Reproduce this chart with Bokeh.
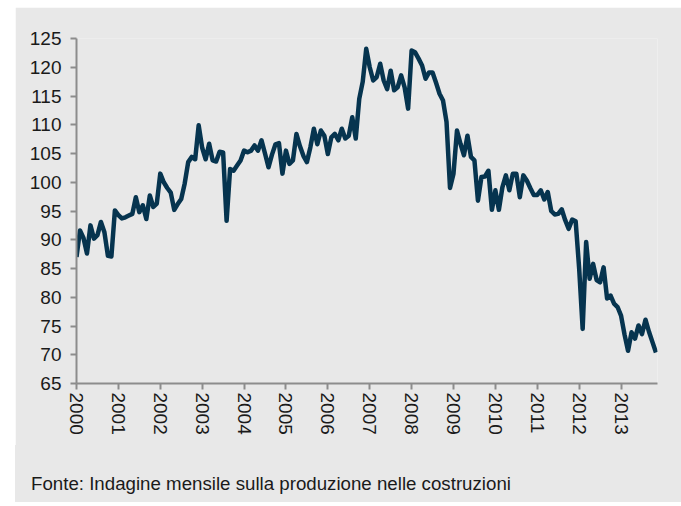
from bokeh.plotting import figure
from bokeh.models import Range1d, FixedTicker, Div
from bokeh.layouts import column
from bokeh.embed import file_html
from bokeh.resources import INLINE

# Monthly index, Jan 2000 - Nov 2013
v2000 = [87.0, 91.6, 90.3, 87.6, 92.5, 90.2, 90.8, 93.1, 91.3, 87.2, 87.1, 95.1]
v2001 = [94.3, 93.7, 93.9, 94.2, 94.5, 97.4, 94.8, 96.0, 93.6, 97.7, 95.7, 96.3]
v2002 = [101.5, 100.0, 99.0, 98.2, 95.2, 96.2, 97.1, 99.8, 103.5, 104.4, 104.0, 109.9]
v2003 = [106.0, 104.0, 106.7, 103.8, 103.6, 105.3, 105.2, 93.3, 102.3, 102.0, 102.9, 103.8]
v2004 = [105.5, 105.2, 105.5, 106.4, 105.5, 107.3, 105.0, 102.6, 104.8, 106.6, 106.8, 101.5]
v2005 = [105.5, 103.2, 103.8, 108.4, 106.3, 104.6, 103.5, 106.1, 109.3, 106.6, 109.0, 108.1]
v2006 = [104.9, 107.8, 108.4, 107.3, 109.3, 107.6, 108.1, 111.3, 107.6, 114.5, 117.5, 123.2]
v2007 = [120.0, 117.7, 118.3, 120.6, 117.7, 116.2, 119.4, 116.0, 116.5, 118.6, 116.5, 112.8]
v2008 = [122.9, 122.6, 121.5, 120.3, 118.0, 119.1, 119.1, 117.3, 115.4, 114.2, 110.5, 99.0]
v2009 = [101.5, 109.0, 106.7, 104.7, 108.1, 104.4, 103.8, 96.8, 100.9, 101.0, 102.0, 95.2]
v2010 = [98.6, 95.2, 99.1, 101.2, 98.6, 101.5, 101.5, 97.4, 101.2, 100.3, 99.0, 97.8]
v2011 = [97.8, 98.6, 97.0, 98.3, 95.0, 94.4, 94.5, 95.3, 93.4, 91.9, 93.5, 93.2]
v2012 = [85.0, 74.5, 89.6, 83.2, 85.8, 83.0, 82.6, 85.2, 79.8, 80.3, 78.9, 78.3]
v2013 = [76.8, 73.5, 70.7, 73.9, 72.8, 75.1, 73.6, 76.1, 74.0, 72.2, 70.4]

values = v2000 + v2001 + v2002 + v2003 + v2004 + v2005 + v2006 + v2007 + v2008 + v2009 + v2010 + v2011 + v2012 + v2013
months = [2000 + i / 12 for i in range(len(values))]

year_ticks = list(range(2000, 2014))
y_ticks = list(range(65, 130, 5))
footer = "Fonte: Indagine mensile sulla produzione nelle costruzioni"

BG = "#e8e8e8"
AX = "#8c8c8c"
FONT = "Liberation Sans"

top = Div(text="", width=666, height=7, margin=0)

p = figure(width=666, height=438, output_backend="svg", toolbar_location=None,
           x_range=Range1d(2000, 2013.87), y_range=Range1d(65, 125),
           min_border_left=61, min_border_right=24, min_border_top=31, min_border_bottom=62)
p.margin = 0
p.background_fill_color = BG
p.border_fill_color = BG
p.outline_line_color = None
p.xgrid.visible = False
p.ygrid.visible = False

p.line(months, values, line_color="#06344f", line_width=4.5, line_join="round")

for ax in (p.xaxis[0], p.yaxis[0]):
    ax.axis_line_color = AX
    ax.axis_line_width = 2
    ax.major_tick_line_color = AX
    ax.major_tick_line_width = 2
    ax.major_tick_out = 6
    ax.major_tick_in = 0
    ax.minor_tick_line_color = None
    ax.major_label_text_font = FONT
    ax.major_label_text_font_size = "19px"
    ax.major_label_text_color = "#1a1a1a"

p.xaxis.ticker = FixedTicker(ticks=year_ticks)
p.xaxis.major_label_orientation = "vertical"
p.xaxis.major_label_standoff = 3
p.yaxis.ticker = FixedTicker(ticks=y_ticks)
p.yaxis.major_label_standoff = 9

note = Div(text=footer, width=666, height=57, margin=0,
           styles={"background-color": BG, "font-family": FONT, "font-size": "18.7px",
                   "color": "#1a1a1a", "padding-left": "16px", "padding-top": "29px",
                   "box-sizing": "border-box", "line-height": "20px"})

layout = column(top, p, note, spacing=0)
layout.styles = {"margin-left": "15px"}
open("out.html", "w").write(file_html(layout, INLINE))
